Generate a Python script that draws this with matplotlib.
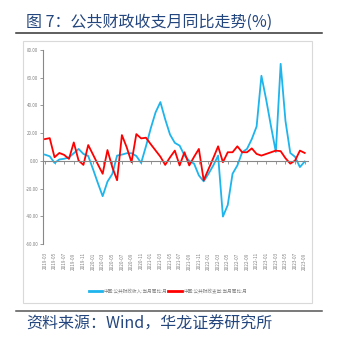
import matplotlib
matplotlib.use("Agg")
import matplotlib.pyplot as plt
from matplotlib.lines import Line2D
from matplotlib.patches import Rectangle

plt.rcParams['font.family'] = ['Noto Sans CJK SC', 'DejaVu Sans']

# ---- data ----
months = []
y, m = 2019, 3
for _ in range(55):
    months.append(f"{y}-{m:02d}")
    m += 1
    if m > 12:
        m = 1
        y += 1

revenue = [4.5, 3.3, -1.5, 1.0, 1.5, 2.5, 5.5, 8.6, 5.0, 3.5,
           -6.0, -16.0, -25.5, -15.0, -9.5, 3.8, 4.5, 5.5, 5.5, 3.5,
           -1.5, 10.5, 23.5, 35.0, 42.4, 30.0, 19.0, 13.0, 11.0, 4.0,
           0.0, -2.0, -10.5, -14.8, -9.3, -3.3, 3.8, -40.2, -31.9, -9.3,
           -3.3, 6.2, 8.6, 15.7, 24.8, 61.4, 44.0, 24.8, 6.4, 70.0,
           28.8, 5.7, 2.9, -4.5, -0.5]
expenditure = [15.7, 16.4, 2.6, 5.7, 4.3, 1.4, 13.3, 0.2, -2.9, 11.4,
               4.5, -2.5, -9.3, 7.8, -4.5, -14.0, 18.6, 9.8, -1.0, 19.3,
               16.2, 16.7, 12.0, 7.5, 3.0, -2.9, 2.5, 7.4, -3.3, 6.2,
               -3.3, 2.9, 8.6, -14.0, -6.0, 2.0, 10.5, -1.0, 6.2, 6.2,
               10.5, 6.2, 6.2, 9.0, 5.0, 3.8, 5.0, 6.2, 7.4, 7.0,
               1.9, -2.0, 0.2, 7.4, 5.7]
series_names = ["中国:公共财政收入:当月同比:月", "中国:公共财政支出:当月同比:月"]
series_colors = ["#1EB4EC", "#FF0000"]
yticks = [-60, -40, -20, 0, 20, 40, 60, 80]
title = "图 7：公共财政收支月同比走势(%)"
source = "资料来源：Wind，华龙证券研究所"

W, H = 337, 341
fig = plt.figure(figsize=(W / 100, H / 100), dpi=100)

def fx(px):
    return px / W

def fy(py):
    return 1 - py / H

navy = "#24467E"
fig.text(fx(26), fy(22), title, fontsize=11.5, color=navy, va='center', ha='left')
fig.add_artist(Line2D([fx(16), fx(322)], [fy(33), fy(33)], color="#333333", lw=1.1))
fig.add_artist(Line2D([fx(16), fx(322)], [fy(311), fy(311)], color="#555555", lw=1.1))
fig.text(fx(26), fy(324), source, fontsize=11.5, color=navy, va='center', ha='left')

fig.add_artist(Rectangle((fx(23), fy(303)), fx(312) - fx(23), fy(41) - fy(303),
                         fill=False, edgecolor="#D9D9D9", lw=0.8))

x = list(range(len(months)))
ax = fig.add_axes([fx(43), fy(244), fx(307.6) - fx(43), fy(50) - fy(244)])
ax.plot(x, revenue, color=series_colors[0], lw=1.3, label=series_names[0])
ax.plot(x, expenditure, color=series_colors[1], lw=1.3, label=series_names[1])
ax.set_xlim(-0.4, 54.6)
ax.set_ylim(-60, 80)
ax.set_yticks(yticks)
ax.set_yticklabels([f"{v:.2f}" for v in yticks], fontsize=3.2, color="#7F7F7F")
ax.tick_params(axis='y', length=2, width=0.6, color="#888888", pad=1.5)

for s in ['top', 'right']:
    ax.spines[s].set_visible(False)
ax.spines['left'].set_color("#888888")
ax.spines['left'].set_linewidth(0.8)
ax.spines['bottom'].set_position(('data', 0))
ax.spines['bottom'].set_color("#888888")
ax.spines['bottom'].set_linewidth(0.8)
ax.set_xticks(x[::2])
ax.set_xticklabels([])
ax.tick_params(axis='x', length=2, width=0.6, color="#888888", direction='out')

sec = ax.secondary_xaxis('bottom')
sec.set_xticks(x[::2])
sec.set_xticklabels(months[::2], rotation=90, fontsize=3.3, color="#7F7F7F")
sec.tick_params(length=0, pad=6)
sec.spines['bottom'].set_visible(False)

handles = [Line2D([], [], color=series_colors[0], lw=2),
           Line2D([], [], color=series_colors[1], lw=2)]
fig.legend(handles, series_names, loc='center', bbox_to_anchor=(fx(168), fy(291)),
           ncol=2, frameon=False, fontsize=3.3, handlelength=3.0, handletextpad=0.3,
           columnspacing=0.2, labelcolor="#7F7F7F")

fig.savefig("out.png", dpi=100)
